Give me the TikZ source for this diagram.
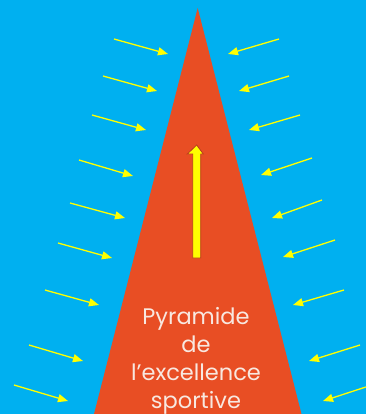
\documentclass[tikz,border=0pt]{standalone}
\usepackage{fontspec}
\setmainfont{Poppins}
\usetikzlibrary{arrows.meta}
\definecolor{bgblue}{HTML}{00B0F0}
\definecolor{pyr}{HTML}{E84E24}
\definecolor{ylw}{HTML}{FFFF00}
\definecolor{edge}{HTML}{B83A1E}
\definecolor{txt}{HTML}{F8E8E0}
\tikzset{
  ray/.style={draw=ylw, line width=1.3pt, -{Triangle[length=10pt,width=8pt]}},
}
\begin{document}
\begin{tikzpicture}[x=1pt,y=-1pt]
\useasboundingbox (0,0) rectangle (366,414);
\clip (0,0) rectangle (366,414);
\fill[bgblue] (0,0) rectangle (366,414);
\fill[pyr] (197.7,8) -- (93.5,416) -- (302,416) -- cycle;
% left rays
\foreach \sx/\sy/\tx/\ty in {114/39/168/54, 103/76/157/91, 92/115/146/130, 79/160/133/176, 70/203/125/218, 58/243/112/258, 45/290/99/305, 29/345/83/361, 14/385/68/401}{
  \draw[ray] (\sx,\sy) -- (\tx,\ty);
}
% right rays
\foreach \sx/\sy/\tx/\ty in {279/39/228/54, 289/76/239/91, 300/115/249/130, 312/158/261/175, 322/200/272/218, 335/240/283/257, 344/290/293/305, 360/345/309/361, 375/384/323/401}{
  \draw[ray] (\sx,\sy) -- (\tx,\ty);
}
% central arrow
\filldraw[fill=ylw, draw=edge, line width=0.8pt]
  (192.7,258) -- (200.7,258) -- (200.7,154) -- (203.3,154) -- (196.7,145) -- (187.3,154) -- (192.7,154) -- cycle;
\node[text=txt, align=center, font=\fontsize{22.5}{27.8}\selectfont, anchor=base, inner sep=0pt] (label) at (196,408) {Pyramide\\de\\l’excellence\\sportive};
\end{tikzpicture}
\end{document}
